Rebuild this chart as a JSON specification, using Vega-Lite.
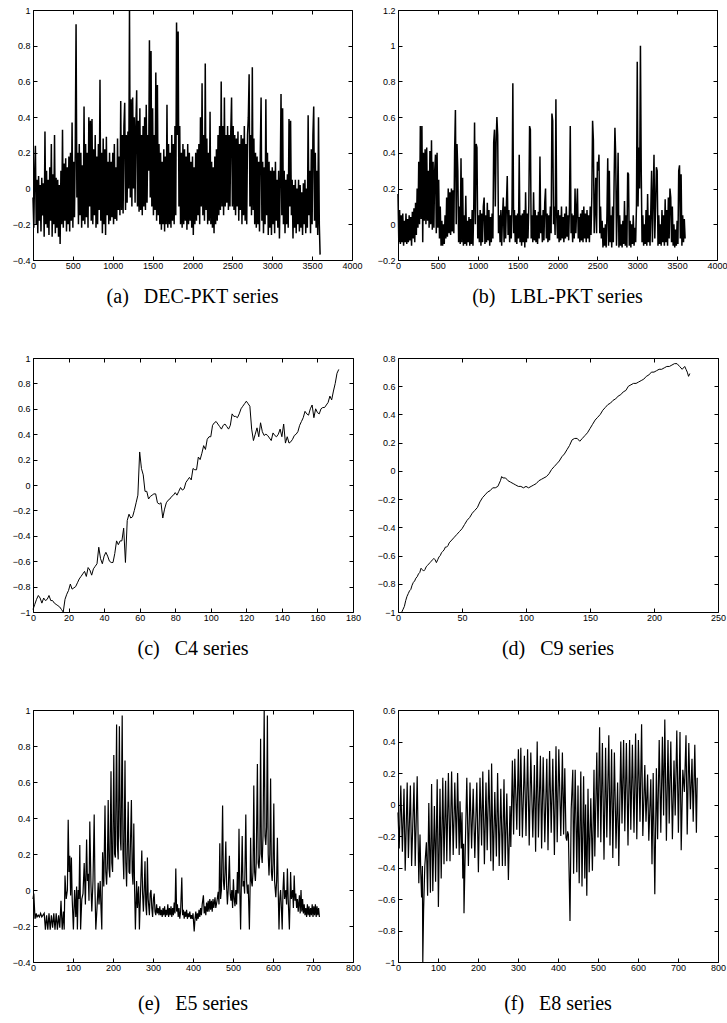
{
"$schema": "https://vega.github.io/schema/vega-lite/v6.json",
"background": "white",
"padding": {"left": 11, "top": 5, "right": 5, "bottom": 5},
"config": {
 "view": {"stroke": "black", "strokeWidth": 1},
 "axis": {"domain": false, "grid": false, "tickSize": -4, "tickColor": "black", "tickWidth": 1, "labelFont": "Liberation Sans", "labelFontSize": 9, "labelColor": "black", "labelFlush": false, "labelOverlap": false},
 "axisBottom": {"labelPadding": 5},
 "axisLeft": {"labelPadding": 7},
 "line": {"color": "black", "strokeWidth": 1},
 "title": {"font": "Liberation Serif", "fontSize": 20, "fontWeight": "normal", "color": "black", "orient": "bottom", "anchor": "middle"}
},
"datasets": {
"dec": [
{"x":0,"y":-0.05},{"x":10,"y":-0.22},{"x":20,"y":0.08},{"x":30,"y":0.24},{"x":40,"y":-0.2},{"x":50,"y":0.05},{"x":60,"y":-0.25},{"x":70,"y":0.07},{"x":80,"y":-0.18},{"x":90,"y":0.02},
{"x":100,"y":-0.24},{"x":110,"y":0.06},{"x":120,"y":-0.15},{"x":130,"y":0.03},{"x":140,"y":-0.27},{"x":150,"y":0.32},{"x":160,"y":-0.2},{"x":170,"y":0.1},{"x":180,"y":-0.22},{"x":190,"y":0.05},
{"x":200,"y":-0.26},{"x":210,"y":0.12},{"x":220,"y":-0.18},{"x":230,"y":0.25},{"x":240,"y":-0.27},{"x":250,"y":0.08},{"x":260,"y":-0.2},{"x":270,"y":0.3},{"x":280,"y":-0.25},{"x":290,"y":0.06},
{"x":300,"y":-0.22},{"x":310,"y":0.05},{"x":320,"y":-0.27},{"x":330,"y":0.02},{"x":340,"y":-0.31},{"x":350,"y":0.1},{"x":360,"y":-0.2},{"x":370,"y":0.33},{"x":380,"y":-0.22},{"x":390,"y":0.14},
{"x":400,"y":-0.18},{"x":410,"y":0.17},{"x":420,"y":-0.24},{"x":430,"y":0.12},{"x":440,"y":-0.2},{"x":450,"y":0.18},{"x":460,"y":-0.24},{"x":470,"y":0.2},{"x":480,"y":-0.18},{"x":490,"y":0.37},
{"x":500,"y":-0.22},{"x":510,"y":0.15},{"x":520,"y":-0.16},{"x":530,"y":0.22},{"x":540,"y":0.92},{"x":550,"y":-0.05},{"x":560,"y":0.2},{"x":570,"y":-0.2},{"x":580,"y":0.25},{"x":590,"y":-0.15},
{"x":600,"y":0.2},{"x":610,"y":-0.22},{"x":620,"y":0.13},{"x":630,"y":-0.18},{"x":640,"y":0.46},{"x":650,"y":-0.2},{"x":660,"y":0.25},{"x":670,"y":-0.16},{"x":680,"y":0.2},{"x":690,"y":-0.22},
{"x":700,"y":0.4},{"x":710,"y":-0.1},{"x":720,"y":0.38},{"x":730,"y":-0.18},{"x":740,"y":0.39},{"x":750,"y":-0.2},{"x":760,"y":0.22},{"x":770,"y":-0.15},{"x":780,"y":0.3},{"x":790,"y":-0.22},
{"x":800,"y":0.18},{"x":810,"y":-0.2},{"x":820,"y":0.25},{"x":830,"y":-0.12},{"x":840,"y":0.61},{"x":850,"y":-0.18},{"x":860,"y":0.2},{"x":870,"y":-0.25},{"x":880,"y":0.28},{"x":890,"y":-0.2},
{"x":900,"y":0.22},{"x":910,"y":-0.26},{"x":920,"y":0.29},{"x":930,"y":-0.15},{"x":940,"y":0.15},{"x":950,"y":-0.2},{"x":960,"y":0.2},{"x":970,"y":-0.18},{"x":980,"y":0.15},{"x":990,"y":-0.16},
{"x":1000,"y":0.2},{"x":1010,"y":-0.2},{"x":1020,"y":0.25},{"x":1030,"y":-0.17},{"x":1040,"y":0.12},{"x":1050,"y":-0.18},{"x":1060,"y":0.28},{"x":1070,"y":-0.12},{"x":1080,"y":0.18},{"x":1090,"y":-0.15},
{"x":1100,"y":0.49},{"x":1110,"y":-0.12},{"x":1120,"y":0.3},{"x":1130,"y":-0.14},{"x":1140,"y":0.35},{"x":1150,"y":0.48},{"x":1160,"y":-0.12},{"x":1170,"y":0.3},{"x":1180,"y":-0.08},{"x":1190,"y":0.32},
{"x":1200,"y":0.0},{"x":1210,"y":1.0},{"x":1220,"y":-0.05},{"x":1230,"y":0.5},{"x":1240,"y":-0.1},{"x":1250,"y":0.51},{"x":1260,"y":0.0},{"x":1270,"y":0.4},{"x":1280,"y":-0.08},{"x":1290,"y":0.35},
{"x":1300,"y":0.55},{"x":1310,"y":-0.1},{"x":1320,"y":0.38},{"x":1330,"y":-0.13},{"x":1340,"y":0.45},{"x":1350,"y":-0.12},{"x":1360,"y":0.3},{"x":1370,"y":-0.15},{"x":1380,"y":0.35},{"x":1390,"y":-0.1},
{"x":1400,"y":0.4},{"x":1410,"y":-0.12},{"x":1420,"y":0.47},{"x":1430,"y":-0.08},{"x":1440,"y":0.3},{"x":1450,"y":0.1},{"x":1460,"y":0.83},{"x":1470,"y":-0.05},{"x":1480,"y":0.77},{"x":1490,"y":-0.1},
{"x":1500,"y":0.45},{"x":1510,"y":-0.15},{"x":1520,"y":0.3},{"x":1530,"y":-0.12},{"x":1540,"y":0.65},{"x":1550,"y":-0.18},{"x":1560,"y":0.58},{"x":1570,"y":-0.15},{"x":1580,"y":0.25},{"x":1590,"y":-0.2},
{"x":1600,"y":0.2},{"x":1610,"y":-0.23},{"x":1620,"y":0.15},{"x":1630,"y":-0.2},{"x":1640,"y":0.22},{"x":1650,"y":-0.24},{"x":1660,"y":0.18},{"x":1670,"y":-0.2},{"x":1680,"y":0.47},{"x":1690,"y":-0.22},
{"x":1700,"y":0.25},{"x":1710,"y":-0.2},{"x":1720,"y":0.2},{"x":1730,"y":-0.22},{"x":1740,"y":0.3},{"x":1750,"y":-0.18},{"x":1760,"y":0.25},{"x":1770,"y":-0.2},{"x":1780,"y":0.35},{"x":1790,"y":-0.15},
{"x":1800,"y":0.93},{"x":1810,"y":0.3},{"x":1820,"y":0.88},{"x":1830,"y":-0.1},{"x":1840,"y":0.35},{"x":1850,"y":-0.2},{"x":1860,"y":0.2},{"x":1870,"y":-0.22},{"x":1880,"y":0.25},{"x":1890,"y":-0.2},
{"x":1900,"y":0.22},{"x":1910,"y":-0.18},{"x":1920,"y":0.18},{"x":1930,"y":-0.23},{"x":1940,"y":0.25},{"x":1950,"y":-0.2},{"x":1960,"y":0.2},{"x":1970,"y":-0.18},{"x":1980,"y":0.15},{"x":1990,"y":-0.22},
{"x":2000,"y":0.18},{"x":2010,"y":-0.26},{"x":2020,"y":0.12},{"x":2030,"y":-0.2},{"x":2040,"y":0.2},{"x":2050,"y":-0.18},{"x":2060,"y":0.22},{"x":2070,"y":-0.15},{"x":2080,"y":0.25},{"x":2090,"y":-0.2},
{"x":2100,"y":0.4},{"x":2110,"y":-0.1},{"x":2120,"y":0.59},{"x":2130,"y":-0.15},{"x":2140,"y":0.3},{"x":2150,"y":-0.18},{"x":2160,"y":0.7},{"x":2170,"y":-0.12},{"x":2180,"y":0.28},{"x":2190,"y":-0.2},
{"x":2200,"y":0.2},{"x":2210,"y":-0.18},{"x":2220,"y":0.43},{"x":2230,"y":-0.2},{"x":2240,"y":0.15},{"x":2250,"y":-0.22},{"x":2260,"y":0.12},{"x":2270,"y":-0.25},{"x":2280,"y":0.18},{"x":2290,"y":-0.2},
{"x":2300,"y":0.22},{"x":2310,"y":-0.18},{"x":2320,"y":0.3},{"x":2330,"y":-0.15},{"x":2340,"y":0.35},{"x":2350,"y":-0.12},{"x":2360,"y":0.6},{"x":2370,"y":-0.1},{"x":2380,"y":0.35},{"x":2390,"y":-0.15},
{"x":2400,"y":0.51},{"x":2410,"y":-0.1},{"x":2420,"y":0.3},{"x":2430,"y":-0.08},{"x":2440,"y":0.35},{"x":2450,"y":-0.12},{"x":2460,"y":0.3},{"x":2470,"y":-0.1},{"x":2480,"y":0.32},{"x":2490,"y":0.51},
{"x":2500,"y":-0.1},{"x":2510,"y":0.35},{"x":2520,"y":-0.12},{"x":2530,"y":0.3},{"x":2540,"y":-0.15},{"x":2550,"y":0.28},{"x":2560,"y":-0.1},{"x":2570,"y":0.32},{"x":2580,"y":-0.18},{"x":2590,"y":0.25},
{"x":2600,"y":-0.12},{"x":2610,"y":0.3},{"x":2620,"y":-0.2},{"x":2630,"y":0.28},{"x":2640,"y":-0.15},{"x":2650,"y":0.35},{"x":2660,"y":-0.18},{"x":2670,"y":0.25},{"x":2680,"y":-0.2},{"x":2690,"y":0.3},
{"x":2700,"y":0.4},{"x":2710,"y":0.64},{"x":2720,"y":-0.1},{"x":2730,"y":0.3},{"x":2740,"y":-0.15},{"x":2750,"y":0.68},{"x":2760,"y":-0.12},{"x":2770,"y":0.28},{"x":2780,"y":-0.2},{"x":2790,"y":0.2},
{"x":2800,"y":-0.22},{"x":2810,"y":0.18},{"x":2820,"y":-0.2},{"x":2830,"y":0.15},{"x":2840,"y":-0.24},{"x":2850,"y":0.2},{"x":2860,"y":0.51},{"x":2870,"y":-0.18},{"x":2880,"y":0.15},{"x":2890,"y":-0.25},
{"x":2900,"y":0.12},{"x":2910,"y":-0.2},{"x":2920,"y":0.5},{"x":2930,"y":-0.15},{"x":2940,"y":0.2},{"x":2950,"y":-0.26},{"x":2960,"y":0.15},{"x":2970,"y":-0.22},{"x":2980,"y":0.1},{"x":2990,"y":-0.26},
{"x":3000,"y":0.12},{"x":3010,"y":-0.2},{"x":3020,"y":0.1},{"x":3030,"y":-0.25},{"x":3040,"y":0.15},{"x":3050,"y":-0.18},{"x":3060,"y":0.05},{"x":3070,"y":-0.22},{"x":3080,"y":0.1},{"x":3090,"y":-0.28},
{"x":3100,"y":0.05},{"x":3110,"y":0.53},{"x":3120,"y":-0.15},{"x":3130,"y":0.45},{"x":3140,"y":-0.2},{"x":3150,"y":0.1},{"x":3160,"y":-0.25},{"x":3170,"y":0.05},{"x":3180,"y":-0.2},{"x":3190,"y":0.08},
{"x":3200,"y":-0.22},{"x":3210,"y":0.39},{"x":3220,"y":-0.1},{"x":3230,"y":0.38},{"x":3240,"y":-0.15},{"x":3250,"y":0.05},{"x":3260,"y":-0.28},{"x":3270,"y":0.02},{"x":3280,"y":-0.22},{"x":3290,"y":0.05},
{"x":3300,"y":-0.25},{"x":3310,"y":0.0},{"x":3320,"y":-0.2},{"x":3330,"y":0.05},{"x":3340,"y":-0.24},{"x":3350,"y":0.02},{"x":3360,"y":-0.22},{"x":3370,"y":-0.02},{"x":3380,"y":-0.26},{"x":3390,"y":0.03},
{"x":3400,"y":-0.2},{"x":3410,"y":0.05},{"x":3420,"y":-0.25},{"x":3430,"y":0.0},{"x":3440,"y":-0.22},{"x":3450,"y":0.41},{"x":3460,"y":-0.15},{"x":3470,"y":0.1},{"x":3480,"y":-0.25},{"x":3490,"y":0.22},
{"x":3500,"y":-0.2},{"x":3510,"y":0.3},{"x":3520,"y":0.46},{"x":3530,"y":-0.18},{"x":3540,"y":0.2},{"x":3550,"y":-0.22},{"x":3560,"y":0.1},{"x":3570,"y":-0.26},{"x":3580,"y":0.4},{"x":3590,"y":-0.2},{"x":3600,"y":-0.37}
],
"lbl": [
{"x":0,"y":0.17},{"x":10,"y":-0.1},{"x":20,"y":0.08},{"x":30,"y":-0.11},{"x":40,"y":0.05},{"x":50,"y":-0.1},{"x":60,"y":0.06},{"x":70,"y":-0.12},{"x":80,"y":0.02},{"x":90,"y":-0.1},
{"x":100,"y":0.06},{"x":110,"y":-0.11},{"x":120,"y":0.03},{"x":130,"y":-0.1},{"x":140,"y":0.05},{"x":150,"y":-0.09},{"x":160,"y":0.04},{"x":170,"y":-0.12},{"x":180,"y":0.07},{"x":190,"y":-0.08},
{"x":200,"y":0.09},{"x":210,"y":-0.1},{"x":220,"y":0.12},{"x":230,"y":-0.06},{"x":240,"y":0.2},{"x":250,"y":-0.02},{"x":260,"y":0.35},{"x":270,"y":0.0},{"x":280,"y":0.55},{"x":290,"y":0.03},
{"x":300,"y":0.55},{"x":310,"y":-0.1},{"x":320,"y":0.4},{"x":330,"y":0.02},{"x":340,"y":0.42},{"x":350,"y":0.0},{"x":360,"y":0.43},{"x":370,"y":0.02},{"x":380,"y":0.3},{"x":390,"y":-0.02},
{"x":400,"y":0.41},{"x":410,"y":0.0},{"x":420,"y":0.47},{"x":430,"y":-0.03},{"x":440,"y":0.35},{"x":450,"y":-0.02},{"x":460,"y":0.3},{"x":470,"y":0.39},{"x":480,"y":-0.05},{"x":490,"y":0.4},
{"x":500,"y":-0.02},{"x":510,"y":0.25},{"x":520,"y":-0.08},{"x":530,"y":0.1},{"x":540,"y":-0.12},{"x":550,"y":0.02},{"x":560,"y":-0.12},{"x":570,"y":0.0},{"x":580,"y":-0.11},{"x":590,"y":0.05},
{"x":600,"y":-0.08},{"x":610,"y":0.15},{"x":620,"y":-0.07},{"x":630,"y":0.2},{"x":640,"y":-0.05},{"x":650,"y":0.18},{"x":660,"y":-0.06},{"x":670,"y":0.2},{"x":680,"y":-0.04},{"x":690,"y":0.19},
{"x":700,"y":-0.05},{"x":710,"y":0.41},{"x":720,"y":0.64},{"x":730,"y":0.0},{"x":740,"y":0.45},{"x":750,"y":0.3},{"x":760,"y":-0.1},{"x":770,"y":0.1},{"x":780,"y":-0.11},{"x":790,"y":0.37},
{"x":800,"y":-0.1},{"x":810,"y":0.26},{"x":820,"y":-0.12},{"x":830,"y":0.05},{"x":840,"y":-0.11},{"x":850,"y":0.16},{"x":860,"y":-0.12},{"x":870,"y":0.02},{"x":880,"y":-0.1},{"x":890,"y":0.04},
{"x":900,"y":-0.12},{"x":910,"y":0.03},{"x":920,"y":-0.11},{"x":930,"y":0.08},{"x":940,"y":-0.12},{"x":950,"y":0.1},{"x":960,"y":0.57},{"x":970,"y":0.0},{"x":980,"y":0.45},{"x":990,"y":0.43},
{"x":1000,"y":-0.08},{"x":1010,"y":0.05},{"x":1020,"y":-0.1},{"x":1030,"y":0.08},{"x":1040,"y":-0.12},{"x":1050,"y":0.06},{"x":1060,"y":-0.1},{"x":1070,"y":0.1},{"x":1080,"y":0.15},{"x":1090,"y":-0.11},
{"x":1100,"y":0.05},{"x":1110,"y":-0.1},{"x":1120,"y":0.12},{"x":1130,"y":-0.09},{"x":1140,"y":0.08},{"x":1150,"y":-0.12},{"x":1160,"y":0.04},{"x":1170,"y":-0.1},{"x":1180,"y":0.06},{"x":1190,"y":-0.08},
{"x":1200,"y":0.46},{"x":1210,"y":0.53},{"x":1220,"y":0.1},{"x":1230,"y":0.45},{"x":1240,"y":0.6},{"x":1250,"y":0.5},{"x":1260,"y":-0.05},{"x":1270,"y":0.05},{"x":1280,"y":-0.1},{"x":1290,"y":0.08},
{"x":1300,"y":-0.12},{"x":1310,"y":0.04},{"x":1320,"y":0.15},{"x":1330,"y":-0.1},{"x":1340,"y":0.1},{"x":1350,"y":-0.08},{"x":1360,"y":0.12},{"x":1370,"y":0.27},{"x":1380,"y":-0.06},{"x":1390,"y":0.08},
{"x":1400,"y":-0.1},{"x":1410,"y":0.05},{"x":1420,"y":-0.08},{"x":1430,"y":0.1},{"x":1440,"y":0.79},{"x":1450,"y":-0.05},{"x":1460,"y":0.08},{"x":1470,"y":-0.1},{"x":1480,"y":0.05},{"x":1490,"y":-0.11},
{"x":1500,"y":0.06},{"x":1510,"y":-0.08},{"x":1520,"y":0.39},{"x":1530,"y":-0.1},{"x":1540,"y":0.05},{"x":1550,"y":-0.12},{"x":1560,"y":0.06},{"x":1570,"y":-0.1},{"x":1580,"y":0.08},{"x":1590,"y":-0.13},
{"x":1600,"y":0.18},{"x":1610,"y":-0.1},{"x":1620,"y":0.06},{"x":1630,"y":-0.08},{"x":1640,"y":0.1},{"x":1650,"y":0.55},{"x":1660,"y":0.53},{"x":1670,"y":-0.08},{"x":1680,"y":0.05},{"x":1690,"y":-0.1},
{"x":1700,"y":0.18},{"x":1710,"y":-0.09},{"x":1720,"y":0.08},{"x":1730,"y":-0.1},{"x":1740,"y":0.05},{"x":1750,"y":-0.11},{"x":1760,"y":0.07},{"x":1770,"y":-0.08},{"x":1780,"y":0.38},{"x":1790,"y":-0.05},
{"x":1800,"y":0.05},{"x":1810,"y":-0.1},{"x":1820,"y":0.08},{"x":1830,"y":-0.09},{"x":1840,"y":0.12},{"x":1850,"y":0.2},{"x":1860,"y":-0.08},{"x":1870,"y":0.06},{"x":1880,"y":-0.1},{"x":1890,"y":0.05},
{"x":1900,"y":-0.09},{"x":1910,"y":0.1},{"x":1920,"y":-0.05},{"x":1930,"y":0.62},{"x":1940,"y":0.58},{"x":1950,"y":0.0},{"x":1960,"y":0.1},{"x":1970,"y":-0.06},{"x":1980,"y":0.7},{"x":1990,"y":0.05},
{"x":2000,"y":-0.08},{"x":2010,"y":0.08},{"x":2020,"y":-0.1},{"x":2030,"y":0.05},{"x":2040,"y":-0.09},{"x":2050,"y":0.1},{"x":2060,"y":-0.08},{"x":2070,"y":0.04},{"x":2080,"y":-0.1},{"x":2090,"y":0.06},
{"x":2100,"y":-0.08},{"x":2110,"y":0.1},{"x":2120,"y":-0.07},{"x":2130,"y":0.05},{"x":2140,"y":-0.09},{"x":2150,"y":0.1},{"x":2160,"y":0.55},{"x":2170,"y":-0.05},{"x":2180,"y":0.06},{"x":2190,"y":-0.1},
{"x":2200,"y":0.05},{"x":2210,"y":-0.08},{"x":2220,"y":0.2},{"x":2230,"y":-0.05},{"x":2240,"y":0.08},{"x":2250,"y":0.2},{"x":2260,"y":-0.08},{"x":2270,"y":0.04},{"x":2280,"y":-0.1},{"x":2290,"y":0.06},
{"x":2300,"y":-0.09},{"x":2310,"y":0.08},{"x":2320,"y":-0.1},{"x":2330,"y":0.1},{"x":2340,"y":-0.08},{"x":2350,"y":0.06},{"x":2360,"y":-0.1},{"x":2370,"y":0.08},{"x":2380,"y":-0.08},{"x":2390,"y":0.05},
{"x":2400,"y":-0.1},{"x":2410,"y":0.1},{"x":2420,"y":-0.06},{"x":2430,"y":0.15},{"x":2440,"y":0.58},{"x":2450,"y":0.47},{"x":2460,"y":-0.05},{"x":2470,"y":0.08},{"x":2480,"y":0.26},{"x":2490,"y":-0.05},
{"x":2500,"y":0.35},{"x":2510,"y":0.3},{"x":2520,"y":0.39},{"x":2530,"y":-0.05},{"x":2540,"y":0.1},{"x":2550,"y":-0.08},{"x":2560,"y":0.02},{"x":2570,"y":-0.13},{"x":2580,"y":-0.02},{"x":2590,"y":-0.12},
{"x":2600,"y":0.0},{"x":2610,"y":-0.13},{"x":2620,"y":0.05},{"x":2630,"y":0.37},{"x":2640,"y":-0.12},{"x":2650,"y":0.3},{"x":2660,"y":-0.1},{"x":2670,"y":0.05},{"x":2680,"y":-0.13},{"x":2690,"y":0.1},
{"x":2700,"y":-0.1},{"x":2710,"y":0.25},{"x":2720,"y":0.54},{"x":2730,"y":0.38},{"x":2740,"y":-0.12},{"x":2750,"y":0.1},{"x":2760,"y":0.4},{"x":2770,"y":-0.13},{"x":2780,"y":0.05},{"x":2790,"y":-0.12},
{"x":2800,"y":0.0},{"x":2810,"y":-0.13},{"x":2820,"y":0.02},{"x":2830,"y":-0.11},{"x":2840,"y":0.13},{"x":2850,"y":-0.12},{"x":2860,"y":0.05},{"x":2870,"y":-0.13},{"x":2880,"y":0.29},{"x":2890,"y":0.28},
{"x":2900,"y":-0.12},{"x":2910,"y":0.02},{"x":2920,"y":-0.13},{"x":2930,"y":0.0},{"x":2940,"y":-0.11},{"x":2950,"y":0.05},{"x":2960,"y":-0.12},{"x":2970,"y":-0.02},{"x":2980,"y":-0.1},{"x":2990,"y":0.1},
{"x":3000,"y":0.91},{"x":3010,"y":0.1},{"x":3020,"y":0.43},{"x":3030,"y":0.2},{"x":3040,"y":1.0},{"x":3050,"y":0.3},{"x":3060,"y":-0.1},{"x":3070,"y":0.05},{"x":3080,"y":-0.12},{"x":3090,"y":0.0},
{"x":3100,"y":-0.11},{"x":3110,"y":0.08},{"x":3120,"y":-0.12},{"x":3130,"y":0.17},{"x":3140,"y":-0.1},{"x":3150,"y":0.05},{"x":3160,"y":-0.12},{"x":3170,"y":0.08},{"x":3180,"y":0.3},{"x":3190,"y":-0.1},
{"x":3200,"y":0.15},{"x":3210,"y":0.39},{"x":3220,"y":-0.08},{"x":3230,"y":0.1},{"x":3240,"y":0.32},{"x":3250,"y":0.3},{"x":3260,"y":-0.12},{"x":3270,"y":0.05},{"x":3280,"y":-0.11},{"x":3290,"y":0.0},
{"x":3300,"y":-0.12},{"x":3310,"y":0.08},{"x":3320,"y":-0.1},{"x":3330,"y":0.05},{"x":3340,"y":-0.12},{"x":3350,"y":0.14},{"x":3360,"y":-0.1},{"x":3370,"y":0.08},{"x":3380,"y":-0.12},{"x":3390,"y":0.15},
{"x":3400,"y":-0.08},{"x":3410,"y":0.2},{"x":3420,"y":0.15},{"x":3430,"y":-0.1},{"x":3440,"y":0.1},{"x":3450,"y":-0.12},{"x":3460,"y":0.0},{"x":3470,"y":-0.13},{"x":3480,"y":-0.03},{"x":3490,"y":-0.12},
{"x":3500,"y":0.02},{"x":3510,"y":-0.11},{"x":3520,"y":0.3},{"x":3530,"y":0.33},{"x":3540,"y":-0.08},{"x":3550,"y":0.28},{"x":3560,"y":-0.12},{"x":3570,"y":0.05},{"x":3580,"y":-0.1},{"x":3590,"y":0.03},{"x":3600,"y":-0.08}
],
"c4": [
{"x":0,"y":-0.98},{"x":1,"y":-0.94},{"x":2,"y":-0.9},{"x":3,"y":-0.87},{"x":4,"y":-0.89},{"x":5,"y":-0.93},{"x":6,"y":-0.89},{"x":7,"y":-0.91},{"x":8,"y":-0.9},{"x":9,"y":-0.87},
{"x":10,"y":-0.91},{"x":11,"y":-0.91},{"x":12,"y":-0.93},{"x":13,"y":-0.94},{"x":14,"y":-0.95},{"x":15,"y":-0.96},{"x":16,"y":-0.98},{"x":17,"y":-1.0},{"x":18,"y":-0.9},{"x":19,"y":-0.86},
{"x":20,"y":-0.83},{"x":21,"y":-0.78},{"x":22,"y":-0.82},{"x":23,"y":-0.81},{"x":24,"y":-0.8},{"x":25,"y":-0.77},{"x":26,"y":-0.74},{"x":27,"y":-0.72},{"x":28,"y":-0.7},{"x":29,"y":-0.68},
{"x":30,"y":-0.72},{"x":31,"y":-0.65},{"x":32,"y":-0.67},{"x":33,"y":-0.71},{"x":34,"y":-0.66},{"x":35,"y":-0.64},{"x":36,"y":-0.62},{"x":37,"y":-0.49},{"x":38,"y":-0.58},{"x":39,"y":-0.62},
{"x":40,"y":-0.56},{"x":41,"y":-0.53},{"x":42,"y":-0.56},{"x":43,"y":-0.6},{"x":44,"y":-0.61},{"x":45,"y":-0.61},{"x":46,"y":-0.54},{"x":47,"y":-0.44},{"x":48,"y":-0.47},{"x":49,"y":-0.44},
{"x":50,"y":-0.44},{"x":51,"y":-0.34},{"x":52,"y":-0.61},{"x":53,"y":-0.28},{"x":54,"y":-0.23},{"x":55,"y":-0.26},{"x":56,"y":-0.25},{"x":57,"y":-0.2},{"x":58,"y":-0.14},{"x":59,"y":-0.08},
{"x":60,"y":0.26},{"x":61,"y":0.13},{"x":62,"y":0.08},{"x":63,"y":-0.05},{"x":64,"y":-0.05},{"x":65,"y":-0.11},{"x":66,"y":-0.09},{"x":67,"y":-0.08},{"x":68,"y":-0.07},{"x":69,"y":-0.07},
{"x":70,"y":-0.14},{"x":71,"y":-0.15},{"x":72,"y":-0.14},{"x":73,"y":-0.26},{"x":74,"y":-0.19},{"x":75,"y":-0.14},{"x":76,"y":-0.12},{"x":77,"y":-0.11},{"x":78,"y":-0.09},{"x":79,"y":-0.08},
{"x":80,"y":-0.06},{"x":81,"y":-0.08},{"x":82,"y":-0.05},{"x":83,"y":-0.02},{"x":84,"y":-0.04},{"x":85,"y":-0.03},{"x":86,"y":0.02},{"x":87,"y":0.04},{"x":88,"y":0.06},{"x":89,"y":0.04},
{"x":90,"y":0.13},{"x":91,"y":0.12},{"x":92,"y":0.12},{"x":93,"y":0.22},{"x":94,"y":0.2},{"x":95,"y":0.25},{"x":96,"y":0.31},{"x":97,"y":0.28},{"x":98,"y":0.36},{"x":99,"y":0.38},
{"x":100,"y":0.38},{"x":101,"y":0.47},{"x":102,"y":0.49},{"x":103,"y":0.5},{"x":104,"y":0.48},{"x":105,"y":0.46},{"x":106,"y":0.44},{"x":107,"y":0.47},{"x":108,"y":0.48},{"x":109,"y":0.46},
{"x":110,"y":0.44},{"x":111,"y":0.47},{"x":112,"y":0.56},{"x":113,"y":0.54},{"x":114,"y":0.54},{"x":115,"y":0.53},{"x":116,"y":0.56},{"x":117,"y":0.6},{"x":118,"y":0.62},{"x":119,"y":0.64},
{"x":120,"y":0.66},{"x":121,"y":0.64},{"x":122,"y":0.62},{"x":123,"y":0.44},{"x":124,"y":0.35},{"x":125,"y":0.4},{"x":126,"y":0.45},{"x":127,"y":0.38},{"x":128,"y":0.49},{"x":129,"y":0.42},
{"x":130,"y":0.39},{"x":131,"y":0.4},{"x":132,"y":0.39},{"x":133,"y":0.37},{"x":134,"y":0.35},{"x":135,"y":0.41},{"x":136,"y":0.39},{"x":137,"y":0.38},{"x":138,"y":0.4},{"x":139,"y":0.44},
{"x":140,"y":0.38},{"x":141,"y":0.48},{"x":142,"y":0.33},{"x":143,"y":0.38},{"x":144,"y":0.33},{"x":145,"y":0.34},{"x":146,"y":0.36},{"x":147,"y":0.39},{"x":148,"y":0.4},{"x":149,"y":0.42},
{"x":150,"y":0.47},{"x":151,"y":0.5},{"x":152,"y":0.53},{"x":153,"y":0.58},{"x":154,"y":0.56},{"x":155,"y":0.55},{"x":156,"y":0.6},{"x":157,"y":0.63},{"x":158,"y":0.53},{"x":159,"y":0.6},
{"x":160,"y":0.57},{"x":161,"y":0.56},{"x":162,"y":0.6},{"x":163,"y":0.61},{"x":164,"y":0.61},{"x":165,"y":0.63},{"x":166,"y":0.65},{"x":167,"y":0.7},{"x":168,"y":0.67},{"x":169,"y":0.74},
{"x":170,"y":0.8},{"x":171,"y":0.88},{"x":172,"y":0.91}
],
"c9": [
{"x":3,"y":-1.0},{"x":4,"y":-0.98},{"x":5,"y":-0.96},{"x":6,"y":-0.92},{"x":7,"y":-0.89},{"x":8,"y":-0.87},{"x":9,"y":-0.85},{"x":10,"y":-0.84},{"x":11,"y":-0.81},{"x":12,"y":-0.79},
{"x":13,"y":-0.78},{"x":14,"y":-0.76},{"x":15,"y":-0.75},{"x":16,"y":-0.73},{"x":17,"y":-0.72},{"x":18,"y":-0.69},{"x":19,"y":-0.7},{"x":20,"y":-0.71},{"x":21,"y":-0.7},{"x":22,"y":-0.68},
{"x":23,"y":-0.67},{"x":24,"y":-0.66},{"x":25,"y":-0.65},{"x":26,"y":-0.64},{"x":27,"y":-0.63},{"x":28,"y":-0.62},{"x":29,"y":-0.63},{"x":30,"y":-0.65},{"x":31,"y":-0.63},{"x":32,"y":-0.61},
{"x":33,"y":-0.6},{"x":34,"y":-0.58},{"x":35,"y":-0.57},{"x":36,"y":-0.56},{"x":37,"y":-0.54},{"x":38,"y":-0.54},{"x":39,"y":-0.53},{"x":40,"y":-0.51},{"x":42,"y":-0.49},{"x":44,"y":-0.47},
{"x":46,"y":-0.45},{"x":48,"y":-0.43},{"x":50,"y":-0.41},{"x":52,"y":-0.38},{"x":54,"y":-0.35},{"x":56,"y":-0.33},{"x":58,"y":-0.3},{"x":60,"y":-0.28},{"x":62,"y":-0.26},{"x":64,"y":-0.22},
{"x":66,"y":-0.19},{"x":68,"y":-0.17},{"x":70,"y":-0.15},{"x":72,"y":-0.14},{"x":74,"y":-0.12},{"x":76,"y":-0.12},{"x":78,"y":-0.11},{"x":80,"y":-0.07},{"x":81,"y":-0.04},{"x":82,"y":-0.05},
{"x":84,"y":-0.05},{"x":86,"y":-0.07},{"x":88,"y":-0.08},{"x":90,"y":-0.09},{"x":92,"y":-0.1},{"x":94,"y":-0.11},{"x":96,"y":-0.11},{"x":98,"y":-0.12},{"x":100,"y":-0.11},{"x":102,"y":-0.12},
{"x":104,"y":-0.11},{"x":106,"y":-0.1},{"x":108,"y":-0.09},{"x":110,"y":-0.07},{"x":112,"y":-0.06},{"x":114,"y":-0.05},{"x":116,"y":-0.04},{"x":118,"y":-0.02},{"x":120,"y":0.01},{"x":122,"y":0.03},
{"x":124,"y":0.05},{"x":126,"y":0.07},{"x":128,"y":0.1},{"x":130,"y":0.12},{"x":132,"y":0.15},{"x":134,"y":0.18},{"x":136,"y":0.22},{"x":138,"y":0.23},{"x":140,"y":0.23},{"x":142,"y":0.21},
{"x":144,"y":0.23},{"x":146,"y":0.25},{"x":148,"y":0.27},{"x":150,"y":0.3},{"x":152,"y":0.33},{"x":154,"y":0.36},{"x":156,"y":0.38},{"x":158,"y":0.4},{"x":160,"y":0.43},{"x":162,"y":0.45},
{"x":164,"y":0.47},{"x":166,"y":0.48},{"x":168,"y":0.5},{"x":170,"y":0.51},{"x":172,"y":0.53},{"x":174,"y":0.54},{"x":176,"y":0.56},{"x":178,"y":0.57},{"x":180,"y":0.6},{"x":182,"y":0.61},
{"x":184,"y":0.62},{"x":186,"y":0.62},{"x":188,"y":0.63},{"x":190,"y":0.64},{"x":192,"y":0.65},{"x":194,"y":0.67},{"x":196,"y":0.68},{"x":198,"y":0.7},{"x":200,"y":0.7},{"x":202,"y":0.71},
{"x":204,"y":0.72},{"x":206,"y":0.72},{"x":208,"y":0.73},{"x":210,"y":0.74},{"x":212,"y":0.74},{"x":214,"y":0.75},{"x":216,"y":0.76},{"x":218,"y":0.76},{"x":220,"y":0.74},{"x":222,"y":0.72},
{"x":224,"y":0.74},{"x":225,"y":0.72},{"x":226,"y":0.7},{"x":227,"y":0.67},{"x":228,"y":0.69}
],
"e5": [
{"x":0,"y":-0.05},{"x":2,"y":-0.02},{"x":5,"y":-0.16},{"x":8,"y":-0.13},{"x":10,"y":-0.15},{"x":13,"y":-0.14},{"x":16,"y":-0.15},{"x":19,"y":-0.13},{"x":22,"y":-0.15},{"x":25,"y":-0.14},
{"x":28,"y":-0.13},{"x":31,"y":-0.22},{"x":34,"y":-0.14},{"x":37,"y":-0.22},{"x":40,"y":-0.13},{"x":43,"y":-0.22},{"x":46,"y":-0.14},{"x":49,"y":-0.21},{"x":52,"y":-0.13},{"x":55,"y":-0.22},
{"x":58,"y":-0.13},{"x":61,"y":-0.22},{"x":64,"y":-0.14},{"x":67,"y":-0.21},{"x":70,"y":-0.06},{"x":73,"y":-0.22},{"x":76,"y":-0.12},{"x":78,"y":-0.22},{"x":80,"y":0.08},{"x":83,"y":-0.05},
{"x":86,"y":0.0},{"x":88,"y":0.39},{"x":90,"y":0.1},{"x":92,"y":0.19},{"x":94,"y":-0.03},{"x":96,"y":0.18},{"x":98,"y":-0.05},{"x":101,"y":-0.22},{"x":104,"y":0.0},{"x":107,"y":-0.15},
{"x":109,"y":0.02},{"x":111,"y":-0.22},{"x":113,"y":0.0},{"x":115,"y":-0.05},{"x":117,"y":0.25},{"x":119,"y":-0.22},{"x":122,"y":-0.05},{"x":125,"y":-0.02},{"x":128,"y":0.15},{"x":131,"y":-0.08},
{"x":134,"y":0.28},{"x":136,"y":0.05},{"x":138,"y":0.09},{"x":140,"y":-0.06},{"x":142,"y":0.38},{"x":145,"y":0.02},{"x":147,"y":-0.12},{"x":150,"y":0.05},{"x":153,"y":0.42},{"x":155,"y":0.0},
{"x":157,"y":-0.22},{"x":160,"y":-0.1},{"x":163,"y":0.04},{"x":165,"y":-0.08},{"x":168,"y":0.05},{"x":170,"y":-0.1},{"x":172,"y":-0.22},{"x":174,"y":0.21},{"x":177,"y":0.02},{"x":180,"y":0.47},
{"x":182,"y":0.1},{"x":184,"y":0.03},{"x":186,"y":0.15},{"x":188,"y":0.5},{"x":190,"y":0.12},{"x":192,"y":0.07},{"x":195,"y":0.66},{"x":197,"y":0.15},{"x":199,"y":0.1},{"x":202,"y":0.75},
{"x":204,"y":0.2},{"x":206,"y":0.18},{"x":209,"y":0.92},{"x":211,"y":0.25},{"x":213,"y":0.17},{"x":216,"y":0.91},{"x":218,"y":0.3},{"x":220,"y":0.22},{"x":223,"y":0.97},{"x":225,"y":0.2},
{"x":227,"y":0.06},{"x":230,"y":0.72},{"x":232,"y":0.15},{"x":234,"y":0.02},{"x":238,"y":0.49},{"x":240,"y":0.1},{"x":242,"y":0.09},{"x":246,"y":0.5},{"x":248,"y":0.1},{"x":250,"y":0.03},
{"x":252,"y":0.37},{"x":254,"y":0.0},{"x":256,"y":-0.22},{"x":259,"y":0.05},{"x":261,"y":-0.1},{"x":264,"y":0.02},{"x":266,"y":-0.22},{"x":269,"y":0.0},{"x":272,"y":0.22},{"x":274,"y":-0.02},
{"x":276,"y":-0.12},{"x":278,"y":0.0},{"x":280,"y":0.16},{"x":282,"y":-0.08},{"x":284,"y":-0.14},{"x":286,"y":0.18},{"x":288,"y":-0.05},{"x":291,"y":-0.14},{"x":293,"y":-0.02},{"x":295,"y":0.0},
{"x":297,"y":-0.1},{"x":299,"y":-0.15},{"x":301,"y":-0.05},{"x":303,"y":-0.02},{"x":305,"y":-0.12},{"x":307,"y":-0.14},{"x":309,"y":-0.08},{"x":311,"y":-0.13},{"x":313,"y":-0.1},{"x":315,"y":-0.14},
{"x":317,"y":-0.09},{"x":319,"y":-0.14},{"x":321,"y":-0.11},{"x":323,"y":-0.15},{"x":325,"y":-0.1},{"x":327,"y":-0.14},{"x":329,"y":-0.09},{"x":331,"y":-0.15},{"x":333,"y":-0.11},{"x":335,"y":-0.14},
{"x":337,"y":-0.08},{"x":339,"y":-0.15},{"x":341,"y":-0.1},{"x":343,"y":-0.14},{"x":345,"y":-0.09},{"x":347,"y":-0.15},{"x":349,"y":-0.1},{"x":351,"y":-0.14},{"x":353,"y":-0.07},{"x":355,"y":-0.13},
{"x":357,"y":0.12},{"x":359,"y":-0.12},{"x":361,"y":-0.08},{"x":363,"y":-0.15},{"x":365,"y":-0.1},{"x":367,"y":-0.16},{"x":369,"y":-0.12},{"x":372,"y":0.07},{"x":374,"y":-0.14},{"x":376,"y":-0.11},
{"x":378,"y":-0.16},{"x":380,"y":-0.12},{"x":382,"y":-0.15},{"x":384,"y":-0.11},{"x":386,"y":-0.16},{"x":388,"y":-0.13},{"x":390,"y":-0.15},{"x":392,"y":-0.12},{"x":394,"y":-0.16},{"x":396,"y":-0.14},
{"x":398,"y":-0.16},{"x":400,"y":-0.13},{"x":403,"y":-0.23},{"x":405,"y":-0.16},{"x":407,"y":-0.12},{"x":409,"y":-0.17},{"x":411,"y":-0.13},{"x":413,"y":-0.16},{"x":415,"y":-0.11},{"x":417,"y":-0.15},
{"x":419,"y":-0.1},{"x":421,"y":-0.14},{"x":423,"y":-0.08},{"x":426,"y":-0.03},{"x":428,"y":-0.13},{"x":430,"y":-0.09},{"x":432,"y":-0.14},{"x":434,"y":-0.07},{"x":436,"y":-0.12},{"x":438,"y":-0.06},
{"x":440,"y":-0.12},{"x":442,"y":-0.05},{"x":444,"y":-0.11},{"x":446,"y":-0.06},{"x":448,"y":-0.12},{"x":450,"y":-0.05},{"x":452,"y":-0.1},{"x":455,"y":-0.04},{"x":457,"y":-0.1},{"x":460,"y":-0.06},
{"x":463,"y":-0.01},{"x":465,"y":-0.08},{"x":467,"y":0.26},{"x":469,"y":-0.05},{"x":471,"y":0.0},{"x":474,"y":0.47},{"x":476,"y":0.05},{"x":478,"y":0.0},{"x":480,"y":0.1},{"x":482,"y":0.27},
{"x":484,"y":0.02},{"x":486,"y":-0.08},{"x":488,"y":0.0},{"x":491,"y":0.19},{"x":493,"y":-0.02},{"x":495,"y":-0.06},{"x":497,"y":0.0},{"x":499,"y":-0.1},{"x":501,"y":0.06},{"x":503,"y":-0.05},
{"x":505,"y":-0.09},{"x":507,"y":0.0},{"x":509,"y":-0.08},{"x":511,"y":0.1},{"x":513,"y":-0.02},{"x":515,"y":0.34},{"x":517,"y":0.0},{"x":519,"y":-0.22},{"x":521,"y":0.05},{"x":523,"y":0.3},
{"x":525,"y":0.02},{"x":527,"y":0.05},{"x":529,"y":-0.02},{"x":532,"y":0.42},{"x":534,"y":0.05},{"x":536,"y":-0.02},{"x":538,"y":0.03},{"x":541,"y":-0.22},{"x":543,"y":0.05},{"x":544,"y":0.29},
{"x":546,"y":0.05},{"x":548,"y":0.02},{"x":550,"y":0.1},{"x":552,"y":0.58},{"x":554,"y":0.1},{"x":556,"y":0.05},{"x":558,"y":0.15},{"x":561,"y":0.7},{"x":563,"y":0.15},{"x":565,"y":0.12},
{"x":567,"y":0.2},{"x":569,"y":0.84},{"x":571,"y":0.2},{"x":573,"y":0.15},{"x":575,"y":0.3},{"x":578,"y":1.0},{"x":580,"y":0.3},{"x":582,"y":0.25},{"x":584,"y":0.35},{"x":586,"y":0.97},
{"x":588,"y":0.2},{"x":590,"y":0.08},{"x":592,"y":0.2},{"x":594,"y":0.62},{"x":596,"y":0.1},{"x":598,"y":0.05},{"x":600,"y":0.15},{"x":602,"y":0.48},{"x":604,"y":0.05},{"x":607,"y":-0.04},
{"x":609,"y":0.05},{"x":611,"y":0.29},{"x":613,"y":0.0},{"x":615,"y":-0.22},{"x":617,"y":-0.05},{"x":619,"y":0.0},{"x":621,"y":-0.1},{"x":623,"y":-0.22},{"x":625,"y":0.0},{"x":627,"y":0.1},
{"x":629,"y":-0.05},{"x":632,"y":0.0},{"x":634,"y":-0.08},{"x":636,"y":0.12},{"x":638,"y":-0.05},{"x":641,"y":-0.22},{"x":643,"y":-0.02},{"x":644,"y":0.1},{"x":646,"y":-0.05},{"x":649,"y":0.0},
{"x":651,"y":-0.1},{"x":653,"y":0.08},{"x":655,"y":-0.06},{"x":657,"y":-0.02},{"x":659,"y":-0.1},{"x":661,"y":-0.05},{"x":663,"y":-0.12},{"x":666,"y":-0.03},{"x":668,"y":-0.13},{"x":670,"y":0.0},
{"x":672,"y":-0.12},{"x":674,"y":-0.05},{"x":676,"y":-0.13},{"x":678,"y":-0.08},{"x":680,"y":-0.14},{"x":682,"y":-0.1},{"x":684,"y":-0.15},{"x":686,"y":-0.08},{"x":688,"y":-0.14},{"x":690,"y":-0.09},
{"x":692,"y":-0.15},{"x":694,"y":-0.1},{"x":696,"y":-0.14},{"x":698,"y":-0.08},{"x":700,"y":-0.15},{"x":702,"y":-0.09},{"x":704,"y":-0.14},{"x":706,"y":-0.08},{"x":708,"y":-0.15},{"x":710,"y":-0.09},
{"x":712,"y":-0.14},{"x":714,"y":-0.1},{"x":716,"y":-0.15}
],
"e8": [
{"x":0,"y":-0.05},{"x":3,"y":-0.28},{"x":7,"y":0.12},{"x":11,"y":-0.3},{"x":15,"y":0.1},{"x":18,"y":-0.42},{"x":23,"y":0.14},{"x":26,"y":-0.34},{"x":31,"y":0.12},{"x":34,"y":-0.39},
{"x":40,"y":0.14},{"x":43,"y":-0.39},{"x":48,"y":0.18},{"x":52,"y":-0.5},{"x":55,"y":-0.19},{"x":57,"y":-0.44},{"x":59,"y":-0.59},{"x":61,"y":-0.39},{"x":62,"y":-1.0},{"x":64,"y":-0.67},
{"x":67,"y":-0.39},{"x":71,"y":-0.24},{"x":74,"y":-0.58},{"x":77,"y":0.01},{"x":81,"y":-0.56},{"x":84,"y":0.13},{"x":87,"y":-0.55},{"x":91,"y":-0.01},{"x":94,"y":-0.49},{"x":98,"y":0.16},
{"x":101,"y":-0.65},{"x":105,"y":0.1},{"x":108,"y":-0.47},{"x":112,"y":0.17},{"x":115,"y":-0.38},{"x":119,"y":0.15},{"x":122,"y":-0.36},{"x":126,"y":0.2},{"x":130,"y":-0.36},{"x":134,"y":0.21},
{"x":138,"y":-0.32},{"x":142,"y":0.14},{"x":146,"y":-0.28},{"x":149,"y":0.2},{"x":153,"y":-0.32},{"x":155,"y":0.02},{"x":158,"y":-0.28},{"x":160,"y":-0.05},{"x":162,"y":-0.47},{"x":164,"y":-0.25},
{"x":165,"y":-0.69},{"x":168,"y":-0.3},{"x":172,"y":0.17},{"x":176,"y":-0.39},{"x":180,"y":0.14},{"x":184,"y":-0.28},{"x":188,"y":0.1},{"x":192,"y":-0.34},{"x":197,"y":0.14},{"x":201,"y":-0.43},
{"x":205,"y":0.17},{"x":209,"y":-0.26},{"x":212,"y":0.21},{"x":216,"y":-0.38},{"x":220,"y":0.14},{"x":223,"y":-0.29},{"x":227,"y":0.22},{"x":232,"y":-0.36},{"x":234,"y":0.26},{"x":238,"y":-0.42},
{"x":242,"y":0.08},{"x":246,"y":-0.33},{"x":249,"y":0.2},{"x":253,"y":-0.39},{"x":257,"y":0.1},{"x":261,"y":-0.39},{"x":265,"y":0.16},{"x":268,"y":-0.39},{"x":272,"y":0.07},{"x":276,"y":-0.48},
{"x":280,"y":-0.01},{"x":282,"y":-0.27},{"x":286,"y":0.28},{"x":289,"y":-0.19},{"x":292,"y":0.29},{"x":297,"y":-0.16},{"x":301,"y":0.35},{"x":304,"y":-0.2},{"x":307,"y":0.36},{"x":311,"y":-0.21},
{"x":316,"y":0.31},{"x":320,"y":-0.2},{"x":324,"y":0.35},{"x":328,"y":-0.26},{"x":332,"y":0.33},{"x":337,"y":-0.21},{"x":341,"y":0.25},{"x":344,"y":-0.3},{"x":348,"y":0.4},{"x":351,"y":-0.21},
{"x":356,"y":0.31},{"x":359,"y":-0.28},{"x":363,"y":0.3},{"x":367,"y":-0.24},{"x":372,"y":0.29},{"x":375,"y":-0.29},{"x":379,"y":0.34},{"x":383,"y":-0.18},{"x":387,"y":0.29},{"x":391,"y":-0.32},
{"x":395,"y":0.37},{"x":398,"y":-0.24},{"x":402,"y":0.35},{"x":407,"y":-0.2},{"x":411,"y":0.33},{"x":414,"y":-0.19},{"x":417,"y":0.23},{"x":420,"y":-0.21},{"x":422,"y":-0.23},{"x":424,"y":-0.17},
{"x":426,"y":-0.19},{"x":430,"y":-0.74},{"x":433,"y":-0.03},{"x":437,"y":0.22},{"x":439,"y":-0.44},{"x":443,"y":0.22},{"x":447,"y":-0.43},{"x":450,"y":0.12},{"x":453,"y":-0.5},{"x":457,"y":0.21},
{"x":460,"y":-0.52},{"x":464,"y":0.18},{"x":467,"y":-0.47},{"x":469,"y":0.0},{"x":472,"y":-0.58},{"x":475,"y":0.1},{"x":478,"y":-0.43},{"x":482,"y":0.04},{"x":486,"y":-0.42},{"x":490,"y":0.22},
{"x":492,"y":-0.33},{"x":497,"y":0.33},{"x":500,"y":-0.21},{"x":504,"y":0.49},{"x":507,"y":-0.24},{"x":511,"y":0.39},{"x":515,"y":-0.35},{"x":519,"y":0.36},{"x":522,"y":-0.21},{"x":527,"y":0.44},
{"x":530,"y":-0.26},{"x":534,"y":0.35},{"x":537,"y":-0.34},{"x":541,"y":0.33},{"x":545,"y":-0.28},{"x":549,"y":0.14},{"x":552,"y":-0.39},{"x":557,"y":0.4},{"x":560,"y":-0.12},{"x":564,"y":0.41},
{"x":567,"y":-0.17},{"x":571,"y":0.39},{"x":575,"y":-0.26},{"x":579,"y":0.41},{"x":582,"y":-0.16},{"x":586,"y":0.38},{"x":590,"y":-0.18},{"x":594,"y":0.45},{"x":597,"y":-0.22},{"x":601,"y":0.41},
{"x":605,"y":-0.11},{"x":609,"y":0.51},{"x":612,"y":-0.2},{"x":617,"y":0.25},{"x":620,"y":-0.11},{"x":624,"y":0.19},{"x":627,"y":-0.23},{"x":632,"y":0.16},{"x":635,"y":-0.38},{"x":638,"y":0.2},
{"x":642,"y":-0.57},{"x":646,"y":0.23},{"x":649,"y":-0.22},{"x":653,"y":0.41},{"x":657,"y":-0.18},{"x":661,"y":0.43},{"x":664,"y":-0.07},{"x":667,"y":0.54},{"x":671,"y":-0.23},{"x":675,"y":0.41},
{"x":678,"y":-0.12},{"x":682,"y":0.4},{"x":686,"y":-0.22},{"x":690,"y":0.28},{"x":693,"y":-0.07},{"x":697,"y":0.47},{"x":701,"y":-0.18},{"x":705,"y":0.46},{"x":708,"y":-0.29},{"x":712,"y":0.22},
{"x":716,"y":0.08},{"x":720,"y":0.44},{"x":723,"y":-0.19},{"x":727,"y":0.39},{"x":731,"y":-0.03},{"x":735,"y":0.29},{"x":738,"y":-0.11},{"x":742,"y":0.38},{"x":746,"y":-0.18},{"x":748,"y":0.17}
]
},
"columns": 2,
"spacing": {"row": 98, "column": 45},
"bounds": "flush",
"concat": [
 {"width": 319, "height": 250, "data": {"name": "dec"},
  "title": {"text": "(a)\u2002 DEC-PKT series", "orient": "bottom", "offset": 17},
  "layer": [
   {"mark": {"type": "line", "strokeWidth": 1.5}, "encoding": {
     "x": {"field": "x", "type": "quantitative", "title": null, "scale": {"domain": [0, 4000], "nice": false, "zero": false}, "axis": {"values": [0,500,1000,1500,2000,2500,3000,3500,4000], "format": "d"}},
     "y": {"field": "y", "type": "quantitative", "title": null, "scale": {"domain": [-0.4, 1], "nice": false, "zero": false}, "axis": {"values": [-0.4,-0.2,0,0.2,0.4,0.6,0.8,1], "format": ".1~f"}}}},
   {"mark": {"type": "line", "opacity": 0}, "encoding": {
     "x": {"field": "x", "type": "quantitative", "title": null, "scale": {"domain": [0, 4000], "nice": false, "zero": false}, "axis": {"orient": "top", "labels": false, "values": [0,500,1000,1500,2000,2500,3000,3500,4000]}},
     "y": {"field": "y", "type": "quantitative", "title": null, "scale": {"domain": [-0.4, 1], "nice": false, "zero": false}, "axis": {"orient": "right", "labels": false, "values": [-0.4,-0.2,0,0.2,0.4,0.6,0.8,1]}}}}
  ],
  "resolve": {"axis": {"x": "independent", "y": "independent"}}},
 {"width": 319, "height": 250, "data": {"name": "lbl"},
  "title": {"text": "(b)\u2002 LBL-PKT series", "orient": "bottom", "offset": 17},
  "layer": [
   {"mark": {"type": "line", "strokeWidth": 1.5}, "encoding": {
     "x": {"field": "x", "type": "quantitative", "title": null, "scale": {"domain": [0, 4000], "nice": false, "zero": false}, "axis": {"values": [0,500,1000,1500,2000,2500,3000,3500,4000], "format": "d"}},
     "y": {"field": "y", "type": "quantitative", "title": null, "scale": {"domain": [-0.2, 1.2], "nice": false, "zero": false}, "axis": {"values": [-0.2,0,0.2,0.4,0.6,0.8,1,1.2], "format": ".1~f"}}}},
   {"mark": {"type": "line", "opacity": 0}, "encoding": {
     "x": {"field": "x", "type": "quantitative", "title": null, "scale": {"domain": [0, 4000], "nice": false, "zero": false}, "axis": {"orient": "top", "labels": false, "values": [0,500,1000,1500,2000,2500,3000,3500,4000]}},
     "y": {"field": "y", "type": "quantitative", "title": null, "scale": {"domain": [-0.2, 1.2], "nice": false, "zero": false}, "axis": {"orient": "right", "labels": false, "values": [-0.2,0,0.2,0.4,0.6,0.8,1,1.2]}}}}
  ],
  "resolve": {"axis": {"x": "independent", "y": "independent"}}},
 {"width": 320, "height": 254, "data": {"name": "c4"},
  "title": {"text": "(c)\u2002 C4 series", "orient": "bottom", "offset": 17},
  "layer": [
   {"mark": "line", "encoding": {
     "x": {"field": "x", "type": "quantitative", "title": null, "scale": {"domain": [0, 180], "nice": false, "zero": false}, "axis": {"values": [0,20,40,60,80,100,120,140,160,180], "format": "d"}},
     "y": {"field": "y", "type": "quantitative", "title": null, "scale": {"domain": [-1, 1], "nice": false, "zero": false}, "axis": {"values": [-1,-0.8,-0.6,-0.4,-0.2,0,0.2,0.4,0.6,0.8,1], "format": ".1~f"}}}},
   {"mark": {"type": "line", "opacity": 0}, "encoding": {
     "x": {"field": "x", "type": "quantitative", "title": null, "scale": {"domain": [0, 180], "nice": false, "zero": false}, "axis": {"orient": "top", "labels": false, "values": [0,20,40,60,80,100,120,140,160,180]}},
     "y": {"field": "y", "type": "quantitative", "title": null, "scale": {"domain": [-1, 1], "nice": false, "zero": false}, "axis": {"orient": "right", "labels": false, "values": [-1,-0.8,-0.6,-0.4,-0.2,0,0.2,0.4,0.6,0.8,1]}}}}
  ],
  "resolve": {"axis": {"x": "independent", "y": "independent"}}},
 {"width": 320, "height": 254, "data": {"name": "c9"},
  "title": {"text": "(d)\u2002 C9 series", "orient": "bottom", "offset": 17},
  "layer": [
   {"mark": "line", "encoding": {
     "x": {"field": "x", "type": "quantitative", "title": null, "scale": {"domain": [0, 250], "nice": false, "zero": false}, "axis": {"values": [0,50,100,150,200,250], "format": "d"}},
     "y": {"field": "y", "type": "quantitative", "title": null, "scale": {"domain": [-1, 0.8], "nice": false, "zero": false}, "axis": {"values": [-1,-0.8,-0.6,-0.4,-0.2,0,0.2,0.4,0.6,0.8], "format": ".1~f"}}}},
   {"mark": {"type": "line", "opacity": 0}, "encoding": {
     "x": {"field": "x", "type": "quantitative", "title": null, "scale": {"domain": [0, 250], "nice": false, "zero": false}, "axis": {"orient": "top", "labels": false, "values": [0,50,100,150,200,250]}},
     "y": {"field": "y", "type": "quantitative", "title": null, "scale": {"domain": [-1, 0.8], "nice": false, "zero": false}, "axis": {"orient": "right", "labels": false, "values": [-1,-0.8,-0.6,-0.4,-0.2,0,0.2,0.4,0.6,0.8]}}}}
  ],
  "resolve": {"axis": {"x": "independent", "y": "independent"}}},
 {"width": 320, "height": 252, "data": {"name": "e5"},
  "title": {"text": "(e)\u2002 E5 series", "orient": "bottom", "offset": 22},
  "layer": [
   {"mark": {"type": "line", "strokeWidth": 1.2}, "encoding": {
     "x": {"field": "x", "type": "quantitative", "title": null, "scale": {"domain": [0, 800], "nice": false, "zero": false}, "axis": {"values": [0,100,200,300,400,500,600,700,800], "format": "d"}},
     "y": {"field": "y", "type": "quantitative", "title": null, "scale": {"domain": [-0.4, 1], "nice": false, "zero": false}, "axis": {"values": [-0.4,-0.2,0,0.2,0.4,0.6,0.8,1], "format": ".1~f"}}}},
   {"mark": {"type": "line", "opacity": 0}, "encoding": {
     "x": {"field": "x", "type": "quantitative", "title": null, "scale": {"domain": [0, 800], "nice": false, "zero": false}, "axis": {"orient": "top", "labels": false, "values": [0,100,200,300,400,500,600,700,800]}},
     "y": {"field": "y", "type": "quantitative", "title": null, "scale": {"domain": [-0.4, 1], "nice": false, "zero": false}, "axis": {"orient": "right", "labels": false, "values": [-0.4,-0.2,0,0.2,0.4,0.6,0.8,1]}}}}
  ],
  "resolve": {"axis": {"x": "independent", "y": "independent"}}},
 {"width": 320, "height": 252, "data": {"name": "e8"},
  "title": {"text": "(f)\u2002 E8 series", "orient": "bottom", "offset": 22},
  "layer": [
   {"mark": {"type": "line", "strokeWidth": 1.2}, "encoding": {
     "x": {"field": "x", "type": "quantitative", "title": null, "scale": {"domain": [0, 800], "nice": false, "zero": false}, "axis": {"values": [0,100,200,300,400,500,600,700,800], "format": "d"}},
     "y": {"field": "y", "type": "quantitative", "title": null, "scale": {"domain": [-1, 0.6], "nice": false, "zero": false}, "axis": {"values": [-1,-0.8,-0.6,-0.4,-0.2,0,0.2,0.4,0.6], "format": ".1~f"}}}},
   {"mark": {"type": "line", "opacity": 0}, "encoding": {
     "x": {"field": "x", "type": "quantitative", "title": null, "scale": {"domain": [0, 800], "nice": false, "zero": false}, "axis": {"orient": "top", "labels": false, "values": [0,100,200,300,400,500,600,700,800]}},
     "y": {"field": "y", "type": "quantitative", "title": null, "scale": {"domain": [-1, 0.6], "nice": false, "zero": false}, "axis": {"orient": "right", "labels": false, "values": [-1,-0.8,-0.6,-0.4,-0.2,0,0.2,0.4,0.6]}}}}
  ],
  "resolve": {"axis": {"x": "independent", "y": "independent"}}}
]
}
